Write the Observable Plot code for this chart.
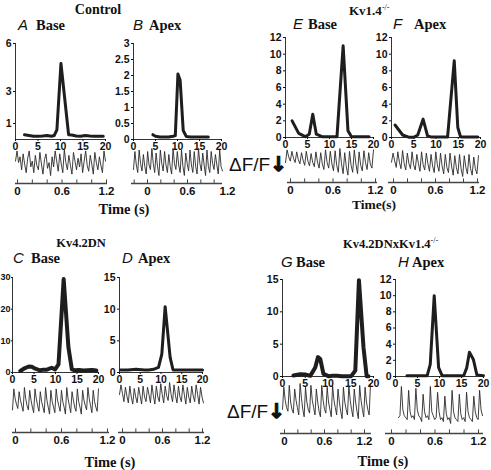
<!DOCTYPE html>
<html><head><meta charset="utf-8">
<script src="https://cdn.jsdelivr.net/npm/d3@7"></script>
<script src="https://cdn.jsdelivr.net/npm/@observablehq/plot@0.6"></script>
<style>
html,body{margin:0;padding:0;background:#fff;}
#fig{position:relative;width:491px;height:470px;overflow:hidden;background:#fff;}
</style></head><body><div id="fig"></div>
<script>
// ---------- DATA ----------
const groupTitles = ["Control", "Kv1.4", "Kv4.2DN", "Kv4.2DNxKv1.4"];
const knockoutSup = "-/-";
const panelLetters = ["A", "B", "E", "F", "C", "D", "G", "H"];
const panelNames = ["Base", "Apex", "Base", "Apex", "Base", "Apex", "Base", "Apex"];
const timeLabel = "Time (s)";
const dffLabel = "ΔF/F";
const dffArrow = "↓";
const freqTicks = [0, 5, 10, 15, 20];
const timeTicks = [-0.2, 0, 0.2, 0.4, 0.6, 0.8, 1.0, 1.2];
const timeTickLabels = [0, 0.6, 1.2];

// spectra (x: frequency, y: power)
const A_x = [2, 3, 4, 5, 6, 7, 8, 8.6, 9.2, 10.1, 11.8, 12.5, 13.5, 14.5, 15.5, 16.5, 17.5, 18.5, 19.5];
const A_y = [0.3, 0.25, 0.2, 0.2, 0.22, 0.25, 0.2, 0.25, 0.6, 4.75, 0.3, 0.28, 0.22, 0.2, 0.25, 0.22, 0.2, 0.2, 0.2];
const A_ticks = [1, 3, 6];
const B_x = [4.4, 5, 6, 7, 8, 9, 9.5, 10.1, 10.6, 11.3, 12, 13, 14, 15, 16, 17];
const B_y = [0.15, 0.1, 0.08, 0.08, 0.08, 0.1, 0.12, 2.05, 1.85, 0.28, 0.09, 0.08, 0.08, 0.08, 0.08, 0.08];
const B_ticks = [0, 0.5, 1, 1.5, 2, 2.5, 3];
const E_x = [1.5, 3, 4.5, 5.4, 6.2, 7, 8.3, 9, 10, 11, 11.7, 13.1, 14.2, 15, 16, 17, 18, 19];
const E_y = [2.0, 0.5, 0.1, 0.4, 2.8, 0.4, 0.1, 0.1, 0.1, 0.1, 0.1, 11, 0.8, 0.1, 0.1, 0.1, 0.1, 0.1];
const F_x = [0.8, 2.5, 4, 5, 5.9, 7.1, 8.1, 9, 10, 11, 12.6, 14.1, 14.9, 15.5, 16, 17, 18, 19.4];
const F_y = [1.5, 0.3, 0.02, 0.02, 0.3, 2.2, 0.2, 0.05, 0.05, 0.05, 0.05, 9.2, 1.2, 0.1, 0.05, 0.05, 0.05, 0.05];
const EF_ticks = [0, 2, 4, 6, 8, 10, 12];
const C_x = [1.8, 2.9, 3.8, 4.5, 5.3, 6.4, 7.2, 8, 9.1, 9.9, 10.7, 11.9, 13, 13.8, 14.5, 15.5, 16.5, 17.5, 18.5, 19.5];
const C_y = [0.5, 1.4, 1.9, 1.8, 1.2, 0.7, 0.9, 0.9, 1.5, 1.0, 2.6, 29.5, 8, 1, 0.7, 0.8, 0.6, 0.7, 0.8, 0.6];
const C_ticks = [0, 10, 20, 30];
const D_x = [0.2, 2, 4, 6, 7, 8.2, 9.4, 10.2, 11, 12.2, 12.9, 14, 15, 16, 17, 18, 19, 20];
const D_y = [0.4, 0.4, 0.5, 0.4, 0.4, 0.5, 0.8, 2.9, 10.4, 2.4, 0.4, 0.4, 0.4, 0.4, 0.4, 0.4, 0.4, 0.4];
const D_ticks = [0, 5, 10, 15];
const G_x = [2.4, 3.9, 5, 6.1, 7.2, 7.8, 8.3, 9, 10.1, 11, 12, 13, 14, 15.1, 16, 16.8, 17.8, 18.5, 18.9];
const G_y = [0.15, 0.35, 0.3, 0.1, 1.4, 3, 2.7, 0.4, 0.05, 0.1, 0.1, 0.05, 0.05, 0.05, 0.9, 14.9, 4.5, 0.05, 0.05];
const G_ticks = [0, 5, 10, 15];
const H_x = [2.6, 4, 5, 6, 7.2, 7.9, 8.8, 9.8, 10.6, 12, 13, 14, 15.5, 16.2, 16.8, 17.7, 18.5, 20];
const H_y = [0.1, 0.1, 0.1, 0.1, 0.1, 1.5, 10, 1.1, 0.1, 0.1, 0.1, 0.1, 0.1, 1.1, 3, 2.1, 0.2, 0.1];
const H_ticks = [0, 2, 4, 6, 8, 10, 12];

// calcium traces (normalised fluorescence, 0 = bottom, 1 = top), equally spaced in time
const A_trace = [0.6,0.95,0.55,0.75,0.3,0.85,0.5,0.2,0.7,0.95,0.4,0.6,0.2,0.8,0.45,0.3,0.9,0.5,0.15,0.65,0.85,0.35,0.55,0.1,0.75,0.4,0.95,0.6,0.25,0.85,0.5,0.2,1.0,0.55,0.3,0.8,0.45,0.15,0.9,0.6,0.3,0.7,0.4,0.85,0.2,0.6,0.95,0.45,0.25,0.8,0.5,0.15,0.9,0.55,0.3,0.75,0.45,0.2,0.95,0.6];
const B_trace = [0.3,0.9,0.45,0.2,0.95,0.5,0.25,0.8,0.4,0.15,0.9,0.45,0.3,1.0,0.5,0.2,0.85,0.4,0.1,0.95,0.5,0.25,0.9,0.45,0.2,0.8,0.4,0.15,1.0,0.5,0.3,0.9,0.45,0.2,0.95,0.4,0.1,0.85,0.5,0.25,0.95,0.45,0.2,0.9,0.4,0.15,1.0,0.5,0.25,0.85,0.45,0.1,0.95,0.4,0.2,0.9,0.5,0.3,0.8,0.45,0.15,0.95,0.4,0.25];
const E_trace = [0.5,0.95,0.7,0.55,0.9,0.65,0.5,0.88,0.6,0.45,0.85,0.58,0.4,0.9,0.55,0.38,0.82,0.5,0.35,0.88,0.52,0.3,0.85,0.45,0.25,0.95,0.5,0.3,0.9,0.45,0.2,0.92,0.4,0.15,1.0,0.45,0.1,0.85,0.35,0.05,0.9,0.4,0.15,0.95,0.45,0.1,0.88,0.4,0.2,0.92,0.5,0.25,0.85,0.45,0.3,0.95];
const F_trace = [0.55,0.9,0.6,0.35,0.95,0.55,0.3,1.0,0.5,0.25,0.9,0.5,0.3,0.95,0.45,0.25,0.85,0.5,0.2,0.95,0.45,0.25,0.9,0.5,0.2,0.85,0.4,0.15,0.95,0.45,0.2,0.9,0.4,0.1,0.85,0.35,0.15,0.9,0.4,0.05,0.8,0.35,0.1,0.85,0.3,0.0,0.8,0.35,0.1,0.85,0.3,0.05,0.75,0.3,0.1,0.8];
const C_trace = [0.2,0.95,0.6,0.4,0.25,0.85,0.55,0.35,0.15,1.0,0.6,0.35,0.2,0.9,0.55,0.3,0.1,0.95,0.6,0.35,0.15,0.85,0.5,0.3,0.1,1.0,0.55,0.3,0.05,0.9,0.5,0.3,0.1,0.95,0.55,0.35,0.15,0.9,0.5,0.3,0.05,1.0,0.6,0.35,0.1,0.85,0.55,0.3,0.15,0.95,0.5,0.3,0.05,0.9,0.55,0.35,0.2,1.0,0.6,0.35,0.1,0.9,0.5,0.3,0.15,0.95];
const D_trace = [0.5,0.9,0.55,0.2,0.8,0.45,0.15,0.85,0.4,0.1,0.75,0.4,0.15,0.8,0.45,0.1,0.85,0.4,0.2,0.8,0.5,0.15,0.9,0.45,0.1,0.85,0.4,0.2,0.95,0.5,0.15,0.85,0.45,0.25,1.0,0.5,0.2,0.9,0.45,0.15,0.85,0.4,0.2,0.9,0.5,0.1,0.8,0.4,0.15,0.85,0.45,0.2,0.9,0.5,0.1,0.8,0.4,0.15];
const G_trace = [0.3,0.9,0.55,0.35,0.25,0.95,0.5,0.3,0.2,0.85,0.55,0.35,0.15,1.0,0.6,0.3,0.1,0.9,0.5,0.3,0.2,0.95,0.55,0.35,0.15,0.85,0.5,0.25,0.1,0.95,0.55,0.3,0.2,0.9,0.5,0.3,0.1,0.95,0.55,0.35,0.15,0.85,0.5,0.25,0.05,0.9,0.5,0.3,0.15,0.95,0.55,0.3,0.1,0.85,0.5,0.25,0.05,0.95,0.55,0.3,0.1,0.9,0.5,0.3,0.15,1.0];
const H_trace = [0.15,0.2,0.95,0.35,0.2,0.15,0.1,0.85,0.3,0.15,0.2,0.1,0.9,0.35,0.2,0.15,0.05,0.75,0.3,0.15,0.2,0.1,0.95,0.3,0.2,0.1,0.15,0.8,0.3,0.1,0.15,0.05,0.7,0.25,0.1,0.15,0.0,0.85,0.3,0.15,0.1,0.05,0.75,0.25,0.1,0.15,0.05,0.8,0.3,0.15,0.1,0.05,0.7,0.3,0.15,0.1,0.85,0.35,0.2];

// ---------- LAYOUT ----------
const fig = document.getElementById("fig");
function place(el, left, top) {
  el.style.position = "absolute";
  el.style.left = left + "px";
  el.style.top = top + "px";
  el.style.overflow = "visible";
  fig.appendChild(el);
}
const SANS = "'Liberation Sans', Arial, Helvetica, sans-serif";
const SERIF = "'Liberation Serif', 'Times New Roman', serif";

function spectrum(p) {
  const mL = 26, mT = 6, mR = 12, mB = 16;
  const w = p.x1 - p.x0, h = p.yb - p.yt;
  const data = p.xs.map((x, i) => ({x, y: p.ys[i]}));
  const tight = p.tight === true;
  const svg = Plot.plot({
    width: mL + w + mR, height: mT + h + mB,
    marginLeft: mL, marginRight: mR, marginTop: mT, marginBottom: mB,
    x: {domain: [0, 20]}, y: {domain: [0, p.ymax]},
    style: {background: "transparent", fontFamily: SANS, fontSize: "10.5px", fontWeight: "bold", color: "#111", overflow: "visible"},
    marks: [
      Plot.ruleY([0], {stroke: "#333", strokeWidth: 1}),
      Plot.ruleX([0], {stroke: "#333", strokeWidth: 1}),
      Plot.axisX({ticks: freqTicks, tickSize: 2, tickPadding: 1, label: null, tickFormat: d => String(d)}),
      Plot.axisY({ticks: p.yticks, tickSize: tight ? 1 : 2, tickPadding: tight ? 1 : 2, label: null,
                  tickFormat: d => String(d), fontSize: tight ? 9 : undefined}),
      Plot.line(data, {x: "x", y: "y", stroke: "#1e1e1e", strokeWidth: p.sw, strokeLinejoin: "round", strokeLinecap: "round"})
    ]
  });
  place(svg, p.x0 - mL, p.yt - mT);
}

function trace(p, vals) {
  const m = 1;
  const data = vals.map((v, i) => ({i, v}));
  const svg = Plot.plot({
    width: p.x1 - p.x0 + 2 * m, height: p.yb - p.yt + 2 * m, margin: m,
    x: {domain: [0, vals.length - 1], axis: null}, y: {domain: [0, 1], axis: null},
    style: {background: "transparent", overflow: "visible"},
    marks: [Plot.line(data, {x: "i", y: "v", stroke: "#2a2a2a", strokeWidth: 0.9})]
  });
  place(svg, p.x0 - m, p.yt - m);
}

function timeAxis(p) {
  const mL = 12, mR = 16, mT = 6, mB = 16, fh = 4;
  const k = (p.end - p.zero) / 1.2;
  const d0 = (p.l0 - p.zero) / k, d1 = (p.l1 - p.zero) / k;
  const ticks = timeTicks.filter(t => t >= d0 - 0.02 && t <= d1 + 0.02);
  const svg = Plot.plot({
    width: mL + (p.l1 - p.l0) + mR, height: mT + fh + mB,
    marginLeft: mL, marginRight: mR, marginTop: mT, marginBottom: mB,
    x: {domain: [d0, d1]}, y: {domain: [0, 1]},
    style: {background: "transparent", fontFamily: SANS, fontSize: "11.5px", fontWeight: "bold", color: "#111", overflow: "visible"},
    marks: [
      Plot.ruleY([0], {stroke: "#444", strokeWidth: 1.3}),
      Plot.ruleX(ticks, {x: d => d, y1: 0, y2: 0.9, stroke: "#444", strokeWidth: 1}),
      Plot.axisX({ticks: timeTickLabels, tickSize: 0, tickPadding: 3, label: null, tickFormat: d => String(d)}),
      Plot.axisY({ticks: [], label: null})
    ]
  });
  place(svg, p.l0 - mL, p.y - mT - fh);
}

// spectra
spectrum({x0: 15, x1: 105, yt: 43, yb: 139, xs: A_x, ys: A_y, ymax: 6, yticks: A_ticks, sw: 3});
spectrum({x0: 133, x1: 221, yt: 43, yb: 139, xs: B_x, ys: B_y, ymax: 3, yticks: B_ticks, sw: 3});
spectrum({x0: 285, x1: 373, yt: 37, yb: 137, xs: E_x, ys: E_y, ymax: 12, yticks: EF_ticks, sw: 3});
spectrum({x0: 391, x1: 480, yt: 37, yb: 137, xs: F_x, ys: F_y, ymax: 12, yticks: EF_ticks, sw: 3});
spectrum({x0: 12, x1: 98, yt: 277, yb: 372, xs: C_x, ys: C_y, ymax: 30, yticks: C_ticks, sw: 4, tight: true});
spectrum({x0: 119, x1: 202, yt: 277, yb: 372, xs: D_x, ys: D_y, ymax: 15, yticks: D_ticks, sw: 3});
spectrum({x0: 282, x1: 373, yt: 279, yb: 376, xs: G_x, ys: G_y, ymax: 15, yticks: G_ticks, sw: 4});
spectrum({x0: 395, x1: 483, yt: 279, yb: 376, xs: H_x, ys: H_y, ymax: 12, yticks: H_ticks, sw: 3});

// traces
trace({x0: 15, x1: 105, yt: 149, yb: 178}, A_trace);
trace({x0: 133, x1: 222, yt: 148, yb: 178}, B_trace);
trace({x0: 285, x1: 373, yt: 148, yb: 176}, E_trace);
trace({x0: 391, x1: 478, yt: 150, yb: 176}, F_trace);
trace({x0: 12, x1: 98, yt: 387, yb: 415}, C_trace);
trace({x0: 119, x1: 203, yt: 382, yb: 406}, D_trace);
trace({x0: 282, x1: 370, yt: 383, yb: 420}, G_trace);
trace({x0: 398, x1: 482, yt: 384, yb: 423}, H_trace);

// time axes
timeAxis({l0: 15, l1: 107, zero: 17, end: 106, y: 183});
timeAxis({l0: 131, l1: 222, zero: 147, end: 227, y: 183});
timeAxis({l0: 287, l1: 377, zero: 290, end: 375, y: 182});
timeAxis({l0: 388, l1: 479, zero: 393, end: 477, y: 182});
timeAxis({l0: 12, l1: 109, zero: 15, end: 107, y: 432});
timeAxis({l0: 118, l1: 204, zero: 122, end: 202, y: 432});
timeAxis({l0: 280, l1: 371, zero: 284, end: 364, y: 433});
timeAxis({l0: 385, l1: 483, zero: 391, end: 478, y: 433});

// ---------- TEXT ----------
const svgT = d3.create("svg").attr("width", 491).attr("height", 470)
  .style("position", "absolute").style("left", "0px").style("top", "0px").style("pointer-events", "none");
fig.appendChild(svgT.node());

function serif(txt, x, y, size, anchor) {
  return svgT.append("text").attr("x", x).attr("y", y).attr("text-anchor", anchor || "start")
    .attr("font-family", SERIF).attr("font-weight", "bold").style("font-size", size + "px").attr("fill", "#111").text(txt);
}
function titleSup(txt, x, y, size) {
  const t = svgT.append("text").attr("x", x).attr("y", y).attr("text-anchor", "start")
    .attr("font-family", SERIF).attr("font-weight", "bold").style("font-size", size + "px").attr("fill", "#111");
  t.append("tspan").text(txt);
  t.append("tspan").attr("dy", -5).style("font-size", "8px").attr("font-weight", "normal").text(knockoutSup);
}

serif(groupTitles[0], 98, 14, 14, "middle");
titleSup(groupTitles[1], 349, 15, 13);
serif(groupTitles[2], 81, 247, 12.5, "middle");
titleSup(groupTitles[3], 343, 248, 12.5);

const letterPos = [[18, 36, 30], [133, 149, 30], [293, 308, 29], [393, 414, 29], [13, 31, 263], [122, 138, 263], [281, 296, 267], [398, 412, 267]];
panelLetters.forEach((L, i) => {
  const [lx, nx, by] = letterPos[i];
  svgT.append("text").attr("x", lx).attr("y", by).attr("font-family", SANS).attr("font-style", "italic")
    .style("font-size", "15px").attr("fill", "#111").text(L);
  serif(panelNames[i], nx, by, 14.5);
});

serif(timeLabel, 124, 214, 14.5, "middle");
serif(timeLabel.replace(" ", ""), 374, 209, 13.5, "middle");
serif(timeLabel, 110, 467, 14.5, "middle");
serif(timeLabel, 383, 466, 14.5, "middle");

[[229, 171], [227, 418]].forEach(([x, y]) => {
  const t = svgT.append("text").attr("x", x).attr("y", y).attr("font-family", SANS).style("font-size", "19px")
    .attr("fill", "#111");
  t.append("tspan").text(dffLabel);
  t.append("tspan").attr("font-family", "'DejaVu Sans', sans-serif").attr("font-weight", "bold")
    .attr("stroke", "#111").attr("stroke-width", 1.2).style("font-size", "20px").text(dffArrow);
});
</script>
</body></html>
